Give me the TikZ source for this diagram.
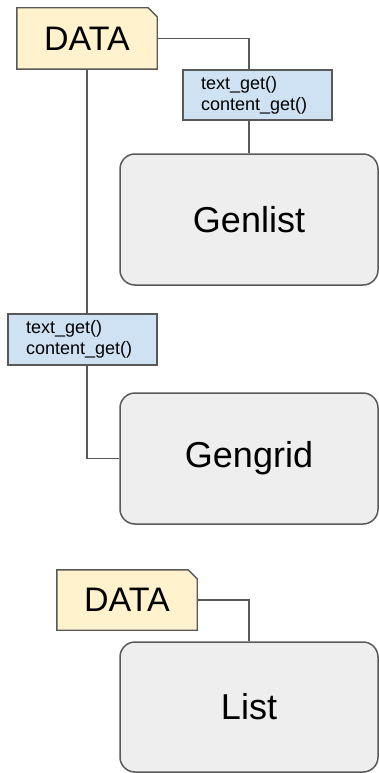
\documentclass[tikz,border=0pt]{standalone}
\usepackage{fontspec}
\setmainfont{Liberation Sans}
\usetikzlibrary{calc,backgrounds}
\definecolor{datafill}{HTML}{FFF2CC}
\definecolor{funcfill}{HTML}{CFE2F3}
\definecolor{widgetfill}{HTML}{EEEEEE}
\definecolor{edge}{HTML}{595959}
\begin{document}
\begin{tikzpicture}[x=1pt, y=-1pt,
        datanote/.style = {inner sep=0pt, minimum width=140pt, minimum height=61pt,
          font=\fontsize{34}{40}\selectfont},
        funcbox/.style = {shape=rectangle, draw=edge, line width=1.2pt, fill=funcfill,
          inner xsep=18pt, inner ysep=0pt, text width=113pt, align=left,
          minimum height=50pt, font=\fontsize{18}{21}\selectfont},
        widget/.style = {shape=rectangle, rounded corners=15pt, draw=edge,
          line width=1.5pt, fill=widgetfill, inner sep=0pt,
          minimum width=258pt, minimum height=131pt,
          font=\fontsize{36}{42}\selectfont},
        link/.style = {draw=edge, line width=1.3pt}
        ]
    \useasboundingbox (0,0) rectangle (379,773);
    % data sources
    \node[datanote] (data1) at (87,38.5) {DATA};
    \node[datanote, minimum height=60pt] (data2) at (127,600) {DATA};
    \begin{scope}[on background layer]
        \foreach \d in {data1, data2}
            \draw[link, line width=1.4pt, fill=datafill] (\d.north west)
                -- ($(\d.north east)+(-9pt,0pt)$) -- ($(\d.north east)+(0pt,-9pt)$)
                -- (\d.south east) -- (\d.south west) -- cycle;
    \end{scope}
    % widgets
    \node[widget] (genlist) at (249,219.5) {Genlist};
    \node[widget] (gengrid) at (249,458.5) {Gengrid};
    \node[widget, minimum height=130pt] (list) at (249,707) {List};
    % callbacks
    \node[funcbox] (fn1) at (257.5,95) {text\_get()\\content\_get()};
    \node[funcbox, minimum height=51pt] (fn2) at (82.5,339.5) {text\_get()\\content\_get()};
    % connectors
    \draw[link] (data1.east) -| (fn1.north -| genlist.north);
    \draw[link] (fn1.south -| genlist.north) -- (genlist.north);
    \draw[link] (data1.south) -- (data1.south |- fn2.north);
    \draw[link] (fn2.south -| data1.south) |- (gengrid.west);
    \draw[link] (data2.east) -| (list.north);
\end{tikzpicture}
\end{document}
